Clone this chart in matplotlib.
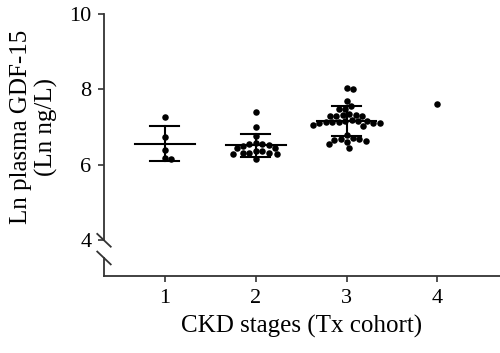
import numpy as np
import matplotlib
matplotlib.use("Agg")
import matplotlib.pyplot as plt
from matplotlib.transforms import blended_transform_factory

plt.rcParams["font.family"] = ["Liberation Serif", "DejaVu Serif"]

# values (Ln ng/L)
stages = [1, 2, 3, 4]
stage1 = [7.27, 6.74, 6.40, 6.16, 6.19]
stage2 = [7.39, 7.00, 6.76,
          6.55, 6.51, 6.45, 6.43, 6.50, 6.55, 6.57,
          6.36, 6.32, 6.28, 6.32, 6.28, 6.31, 6.36, 6.14]
stage3 = [8.01, 8.04, 7.70, 7.57, 7.47, 7.48,
          7.34, 7.30, 7.29, 7.31, 7.30, 7.33,
          7.17, 7.14, 7.13, 7.15, 7.12, 7.11, 7.12, 7.13, 7.15, 7.18,
          7.02, 7.06,
          6.78, 6.70, 6.60, 6.68, 6.56, 6.62, 6.66, 6.69, 6.44]
stage4 = [7.62]
groups = [stage1, stage2, stage3, stage4]

# mean and mean +/- SD bars as drawn
means = [6.55, 6.52, 7.15]
sd_low = [6.09, 6.21, 6.77]
sd_high = [7.02, 6.81, 7.55]

yticks = [4, 6, 8, 10]


def swarm(ax, x0, values, diam):
    """simple beeswarm offsets, computed in pixel space"""
    pts = ax.transData.transform(np.column_stack([np.full(len(values), x0), values]))
    order = np.argsort(values)[::-1]
    placed = []
    xs = np.zeros(len(values))
    cands = [0.0]
    for k in range(1, 200):
        cands += [k * 0.5, -k * 0.5]
    for i in order:
        px, py = pts[i]
        for c in cands:
            if all((px + c - qx) ** 2 + (py - qy) ** 2 >= diam ** 2 for qx, qy in placed):
                placed.append((px + c, py))
                xs[i] = px + c
                break
    inv = ax.transData.inverted()
    return inv.transform(np.column_stack([xs, pts[:, 1]]))[:, 0]


fig = plt.figure(figsize=(5.0, 3.53), dpi=100)
ax = fig.add_axes([0.208, 0.218, 0.792, 0.742])
ax.set_xlim(0.33, 4.69)
ax.set_ylim(3.04, 10)

spine_col = "#333333"
for s in ["top", "right", "left"]:
    ax.spines[s].set_visible(False)
ax.spines["bottom"].set_color(spine_col)
ax.spines["bottom"].set_linewidth(1.3)

# broken left axis
tr = blended_transform_factory(ax.transAxes, ax.transData)
ax.plot([0, 0], [3.99, 10], transform=tr, color=spine_col, lw=1.3, clip_on=False)
ax.plot([0, 0], [3.04, 3.52], transform=tr, color=spine_col, lw=1.3, clip_on=False)
for yc in [3.99, 3.52]:
    ax.plot([-0.017, 0.017], [yc + 0.17, yc - 0.17], transform=tr,
            color=spine_col, lw=1.3, clip_on=False)

ax.set_yticks(yticks)
ax.set_xticks(stages)
ax.tick_params(axis="y", length=4, width=1.2, color=spine_col, pad=5, labelsize=16)
ax.tick_params(axis="x", length=4.5, width=1.2, color=spine_col, pad=5, labelsize=16)

for x0, vals in zip(stages, groups):
    xs = swarm(ax, x0, vals, 6.5)
    ax.scatter(xs, vals, s=22, color="black", zorder=3, linewidths=0)

for x0, m, lo, hi in zip(stages, means, sd_low, sd_high):
    ax.plot([x0 - 0.33, x0 + 0.33], [m, m], color="black", lw=1.5, zorder=4)
    ax.plot([x0, x0], [lo, hi], color="black", lw=1.5, zorder=4)
    for yv in (lo, hi):
        ax.plot([x0 - 0.16, x0 + 0.16], [yv, yv], color="black", lw=1.5, zorder=4)

ax.set_xlabel("CKD stages (Tx cohort)", fontsize=18, labelpad=5)
fig.text(34 / 500, 1 - 127 / 353, "Ln plasma GDF-15\n(Ln ng/L)", rotation=90,
         ha="center", va="center", multialignment="center", fontsize=18,
         linespacing=1.15)

fig.savefig("out.png", dpi=100)
